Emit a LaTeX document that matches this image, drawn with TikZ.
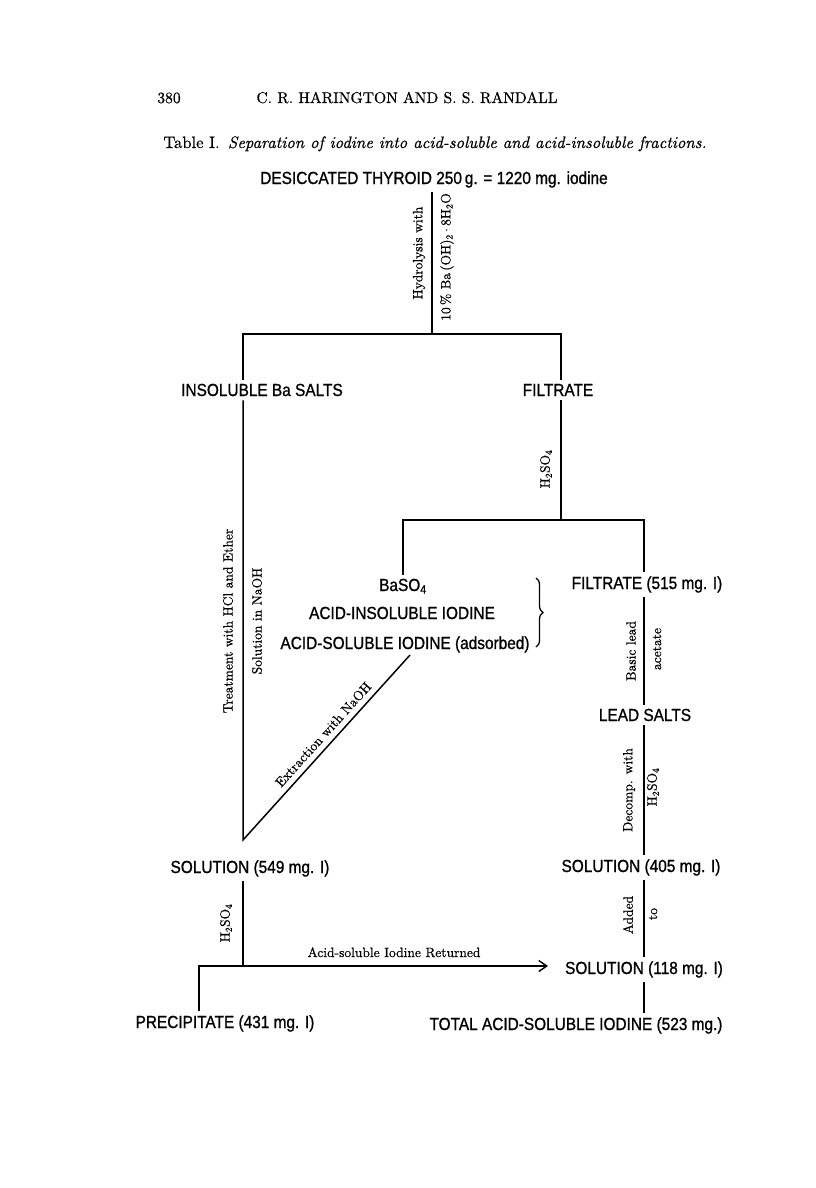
\documentclass[tikz,border=0pt]{standalone}
\usepackage{fontspec}
\usetikzlibrary{arrows.meta,decorations.pathreplacing}
\newfontfamily\labfont[FakeStretch=0.88,FakeBold=1.0]{Liberation Sans}
\newfontfamily\serifb[FakeBold=0.6,ItalicFont=lmroman10-italic.otf]{lmroman10-regular.otf}
\begin{document}
\begin{tikzpicture}[x=1pt,y=-1pt,
  lab/.style={font=\labfont\fontsize{17.5}{20}\selectfont, inner sep=4pt, anchor=base},
  note/.style={font=\serifb\fontsize{13.5}{15}\selectfont, inner sep=0pt},
  head/.style={font=\serifb\fontsize{15.6}{19}\selectfont, inner sep=0pt, anchor=base},
  capt/.style={font=\serifb\fontsize{16.6}{18}\selectfont, inner sep=0pt, anchor=base},
  conn/.style={line width=1.5pt},
  tip/.style={-{Straight Barb[length=8pt,width=11pt,line width=1.4pt]}}]
\useasboundingbox (0,0) rectangle (816,1188);

% heading
\node[head] (pg) at (169,103) {380};
\node[head] (hdr) at (407,103) {C. R. HARINGTON AND S. S. RANDALL};
\node[capt] (cap) at (435,148) {Table I.\enspace \textit{Separation of iodine into acid-soluble and acid-insoluble fractions.}};

% stages
\node[lab] (thy) at (434,184) {DESICCATED THYROID 250\,g. = 1220 mg. iodine};
\node[lab] (ins) at (262,396) {INSOLUBLE Ba SALTS};
\node[lab] (filt) at (558,396) {FILTRATE};
\node[lab] (baso) at (403,591) {BaSO\textsubscript{4}};
\node[lab] (aci) at (402,619) {ACID-INSOLUBLE IODINE};
\node[lab] (asi) at (405,649) {ACID-SOLUBLE IODINE (adsorbed)};
\node[lab] (filt2) at (647,589) {FILTRATE (515 mg. I)};
\node[lab] (lead) at (645,721) {LEAD SALTS};
\node[lab] (sol405) at (641,872) {SOLUTION (405 mg. I)};
\node[lab] (sol118) at (644,974) {SOLUTION (118 mg. I)};
\node[lab] (total) at (576,1030) {TOTAL ACID-SOLUBLE IODINE (523 mg.)};
\node[lab] (sol549) at (250,873) {SOLUTION (549 mg. I)};
\node[lab] (prec) at (225,1028) {PRECIPITATE (431 mg. I)};

% junctions
\coordinate (j1) at (432,334);
\coordinate (j1L) at (243,334);
\coordinate (j1R) at (561,334);
\coordinate (j2) at (561,520);
\coordinate (j2L) at (403,520);
\coordinate (j2R) at (644,520);
\coordinate (tri) at (243,840);
\coordinate (dtop) at (410,655);
\coordinate (j3) at (243,966);
\coordinate (j3L) at (199,966);
\coordinate (arr) at (548,966);

% connectors
\draw[conn] (thy.south -| j1) -- (j1);
\draw[conn] (ins.north -| j1L) -- (j1L) -- (j1R) -- (filt.north -| j1R);
\draw[conn] (filt.south -| j2) -- (j2);
\draw[conn] (baso.north -| j2L) -- (j2L) -- (j2R) -- (filt2.north -| j2R);
\draw[conn] (ins.south -| tri) -- (tri) -- (dtop);
\draw[conn] (filt2.south -| j2R) -- (lead.north -| j2R);
\draw[conn] (lead.south -| j2R) -- (sol405.north -| j2R);
\draw[conn] (sol405.south -| j2R) -- (sol118.north -| j2R);
\draw[conn] (sol118.south -| j2R) -- (total.north -| j2R);
\draw[conn] (sol549.south -| j3) -- (j3);
\draw[conn] (prec.north -| j3L) -- (j3L) -- (j3);
\draw[conn,tip] (j3) -- (arr);

% brace
\draw[line width=1.3pt, decorate, decoration={brace, amplitude=7pt}] (536,578) -- (536,647);

% step labels
\node[note, rotate=90] (hyd) at (419,253) {Hydrolysis with};
\node[note, rotate=90] (bao) at (447,257) {10\,\% Ba\,(OH)\textsubscript{2}\,$\cdot$\,8H\textsubscript{2}O};
\node[note, rotate=90] (sa) at (546,469) {H\textsubscript{2}SO\textsubscript{4}};
\node[note, rotate=90] (treat) at (228,621) {Treatment with HCl and Ether};
\node[note, rotate=90] (snaoh) at (257,621) {Solution in NaOH};
\path (tri) -- (dtop) node[note, pos=0.53, sloped, above=6pt] (extr) {Extraction with NaOH};
\node[note, rotate=90] (basic) at (631,651) {Basic lead};
\node[note, rotate=90] (acet) at (657,649) {acetate};
\node[note, rotate=90] (decomp) at (629,790) {Decomp. with};
\node[note, rotate=90] (sb) at (653,787) {H\textsubscript{2}SO\textsubscript{4}};
\node[note, rotate=90] (added) at (628,915) {Added};
\node[note, rotate=90] (to) at (653,914) {to};
\node[note, rotate=90] (sc) at (226,923) {H\textsubscript{2}SO\textsubscript{4}};
\node[note, anchor=base] (ret) at (394,957) {Acid-soluble Iodine Returned};
\end{tikzpicture}
\end{document}
